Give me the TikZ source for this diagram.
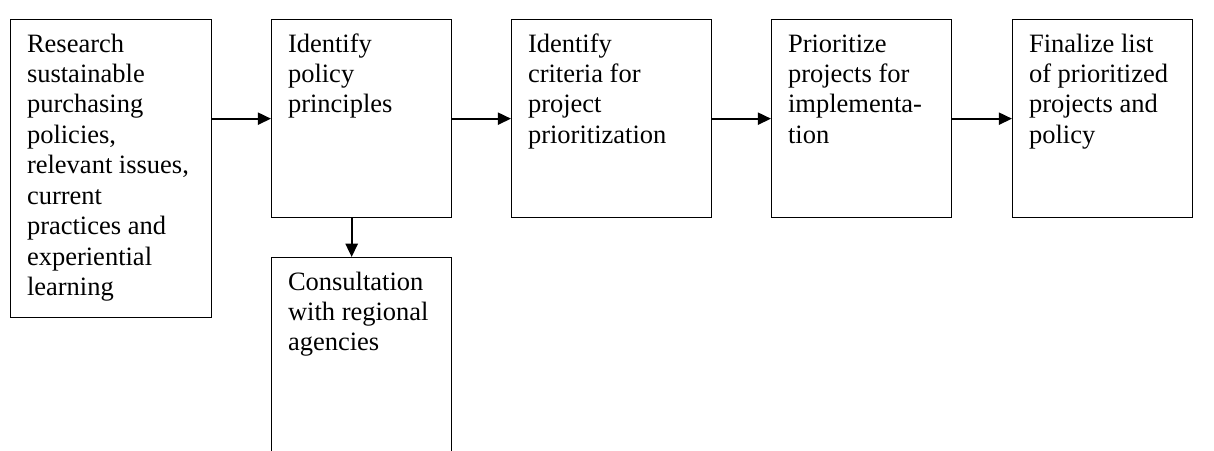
\documentclass[tikz,border=0pt]{standalone}
\usepackage{fontspec}
\setmainfont{Liberation Serif}
\usetikzlibrary{arrows.meta}

\def\px{0.4528pt}

\begin{document}
\begin{tikzpicture}
[x=\px,y=\px,>={Triangle[length=6pt,width=5.5pt]},
stage/.style={draw,line width=0.6pt,anchor=north west,inner sep=0pt,minimum height=198*\px},
words/.style={anchor=north west,align=left,inner xsep=7.5pt,inner ysep=5.1pt,font=\fontsize{12}{13.8}\selectfont},
flow/.style={->,line width=0.9pt},]

%Frame
\path[use as bounding box,clip] (0,0) rectangle (1214,451);

%Drawing boxes
\node (research) at (10,432)[stage,minimum width=201*\px,minimum height=298*\px] {};
\node (policy) at (271,432)[stage,minimum width=180*\px] {};
\node (criteria) at (511,432)[stage,minimum width=200*\px] {};
\node (prioritize) at (771,432)[stage,minimum width=180*\px] {};
\node (finalize) at (1012,432)[stage,minimum width=180*\px] {};
\node (consult) at (271,194)[stage,minimum width=180*\px,minimum height=270*\px] {};

%Labeling boxes
\node (researchtext) at (research.north west)[words] {\strut Research\\sustainable\\purchasing\\policies,\\relevant issues,\\current\\practices and\\experiential\\learning};
\node (policytext) at (policy.north west)[words] {\strut Identify\\policy\\principles};
\node (criteriatext) at (criteria.north west)[words] {\strut Identify\\criteria for\\project\\prioritization};
\node (prioritizetext) at (prioritize.north west)[words] {\strut Prioritize\\projects for\\implementa-\\tion};
\node (finalizetext) at (finalize.north west)[words] {\strut Finalize list\\of prioritized\\projects and\\policy};
\node (consulttext) at (consult.north west)[words] {\strut Consultation\\with regional\\agencies};

%Drawing arrows
\draw[flow] (research.east |- policy.west) -- (policy.west);
\draw[flow] (policy.east) -- (criteria.west);
\draw[flow] (criteria.east) -- (prioritize.west);
\draw[flow] (prioritize.east) -- (finalize.west);
\draw[flow] ([xshift=-10*\px]policy.south) -- ([xshift=-10*\px]consult.north);

\end{tikzpicture}
\end{document}
